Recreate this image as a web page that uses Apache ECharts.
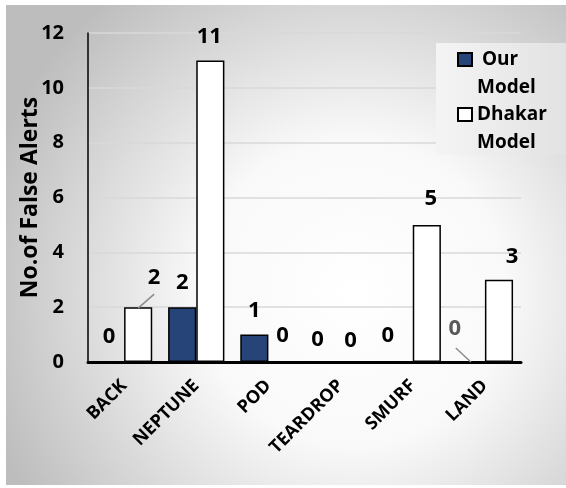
<!DOCTYPE html>
<html>
<head>
<meta charset="utf-8">
<script src="https://cdn.jsdelivr.net/npm/echarts@6/dist/echarts.min.js"></script>
<style>
  html, body { margin: 0; padding: 0; background: #ffffff; }
  #chart { width: 566px; height: 488px; }
</style>
</head>
<body>
<div id="chart"></div>
<script>
// Attack categories and false-alert counts per model
const categories = ['BACK', 'NEPTUNE', 'POD', 'TEARDROP', 'SMURF', 'LAND'];
const seriesNames = ['Our Model', 'Dhakar Model'];
const ourModel = [0, 2, 1, 0, 0, 0];
const dhakarModel = [2, 11, 0, 0, 5, 3];
const yTickMin = 0;
const yTickMax = 12;
const yTickStep = 2;

// Per-label nudges [dx, dy] in pixels, relative to the default "top" placement
const ourLabelShift = [[-1, -9], [0, -8], [0, -8], [-9, -6], [-11, -10], [-16, -17]];
const dhakarLabelShift = [[16, -13], [-1, -8], [0, -10], [-4, -5], [4, -10], [13, -7]];

const FONT = '"Open Sans", "Noto Sans", sans-serif';
const OUR_COLOR = '#264478';

function buildData(values, shifts, greyIndex) {
  return values.map((v, i) => ({
    value: v,
    label: {
      offset: shifts[i],
      color: i === greyIndex ? '#595959' : '#000000'
    }
  }));
}

const chart = echarts.init(document.getElementById('chart'), null, { renderer: 'canvas' });

const option = {
  animation: false,
  backgroundColor: '#ffffff',
  graphic: [
    {
      type: 'rect',
      z: -10,
      left: 6, top: 5,
      shape: { width: 560, height: 480 },
      style: {
        fill: {
          type: 'radial', x: 0.62, y: 0.6, r: 0.8,
          colorStops: [
            { offset: 0, color: '#ffffff' },
            { offset: 0.4, color: '#f9f9f9' },
            { offset: 1, color: '#bdbdbd' }
          ]
        }
      },
      silent: true
    },
    {
      // legend panel, drawn over the gridlines
      type: 'rect',
      z: 3,
      left: 436, top: 43,
      shape: { width: 130, height: 112 },
      style: {
        fill: {
          type: 'linear', x: 0, y: 0, x2: 1, y2: 0,
          colorStops: [
            { offset: 0, color: '#f4f4f4' },
            { offset: 1, color: '#e2e2e2' }
          ]
        }
      },
      silent: true
    }
  ],
  grid: {
    left: 88, right: 45, top: 33, bottom: 126,
    containLabel: false,
    outerBoundsMode: 'none'
  },
  legend: {
    data: seriesNames,
    orient: 'vertical',
    left: 457,
    top: 50,
    padding: 0,
    itemGap: 8,
    itemWidth: 14,
    itemHeight: 13,
    icon: 'rect',
    selectedMode: false,
    formatter: function (name) {
      const parts = name.split(' ');
      const first = name === seriesNames[0] ? 'first' : 'line';
      return '{' + first + '|' + parts[0] + '}\n{line|' + parts[1] + '}';
    },
    textStyle: {
      padding: [28, 0, 0, 0],
      rich: {
        first: { fontFamily: FONT, fontSize: 19, fontWeight: 'bold', color: '#000', lineHeight: 28, padding: [0, 0, 0, 5] },
        line: { fontFamily: FONT, fontSize: 19, fontWeight: 'bold', color: '#000', lineHeight: 28 }
      }
    }
  },
  xAxis: {
    type: 'category',
    data: categories,
    axisLine: { show: true, lineStyle: { color: '#000000', width: 3 } },
    axisTick: { show: false },
    axisLabel: {
      interval: 0,
      rotate: 45,
      margin: 21,
      fontFamily: FONT,
      fontSize: 18,
      fontWeight: 'bold',
      color: '#000000'
    },
    splitLine: { show: false }
  },
  yAxis: {
    type: 'value',
    min: yTickMin,
    max: yTickMax,
    interval: yTickStep,
    name: 'No.of False Alerts',
    nameLocation: 'middle',
    nameRotate: 90,
    nameGap: 46,
    nameMoveOverlap: false,
    nameTextStyle: { fontFamily: FONT, fontSize: 23, fontWeight: 'bold', color: '#000000' },
    axisLine: { show: true, lineStyle: { color: '#000000', width: 1.5 } },
    axisTick: { show: false },
    axisLabel: {
      margin: 24,
      fontFamily: FONT,
      fontSize: 20,
      fontWeight: 'bold',
      color: '#000000'
    },
    splitLine: { show: true, lineStyle: { color: '#d9d9d9', width: 1.5 } }
  },
  series: [
    {
      name: seriesNames[0],
      type: 'bar',
      data: buildData(ourModel, ourLabelShift, 5),
      barGap: '0%',
      barCategoryGap: '22%',
      itemStyle: { color: OUR_COLOR, borderColor: '#000000', borderWidth: 1.5 },
      label: {
        show: true,
        position: 'top',
        distance: 5,
        fontFamily: FONT,
        fontSize: 22,
        fontWeight: 'bold'
      }
    },
    {
      name: seriesNames[1],
      type: 'bar',
      data: buildData(dhakarModel, dhakarLabelShift, -1),
      barGap: '0%',
      barCategoryGap: '22%',
      itemStyle: { color: '#ffffff', borderColor: '#000000', borderWidth: 1.5 },
      label: {
        show: true,
        position: 'top',
        distance: 5,
        fontFamily: FONT,
        fontSize: 22,
        fontWeight: 'bold'
      }
    }
  ]
};

chart.setOption(option);

// Leader lines from moved labels back to their bars, placed from the bar layout
function leader(seriesIndex, dataIndex, dx1, dy1, dx2, dy2) {
  const layout = chart.getModel().getSeriesByIndex(seriesIndex).getData().getItemLayout(dataIndex);
  const cx = layout.x + layout.width / 2;
  const top = layout.y + Math.min(0, layout.height);
  return {
    type: 'line',
    silent: true,
    z: 10,
    shape: { x1: cx + dx1, y1: top + dy1, x2: cx + dx2, y2: top + dy2 },
    style: { stroke: '#8c8c8c', lineWidth: 1.5 }
  };
}

chart.setOption({
  graphic: option.graphic.concat([
    leader(1, 0, 0, 1, 16, -13),
    leader(0, 5, 0, 0, -15, -14)
  ])
});
</script>
</body>
</html>
